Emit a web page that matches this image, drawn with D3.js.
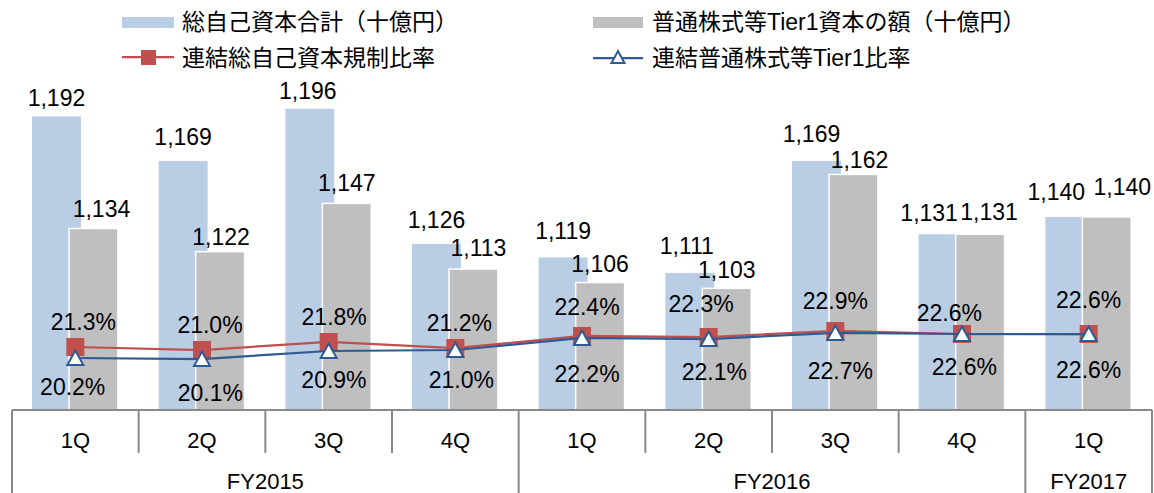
<!DOCTYPE html>
<html><head><meta charset="utf-8">
<script src="https://cdn.jsdelivr.net/npm/d3@7"></script>
<style>
body{margin:0;background:#fff;}
svg{display:block;font-family:"Liberation Sans","Noto Sans CJK JP",Arial,sans-serif;}
</style></head>
<body><svg id="c" width="1154" height="493"></svg>
<script>
// ---- data ----
const quarters = ["1Q","2Q","3Q","4Q","1Q","2Q","3Q","4Q","1Q"];
const fiscalYears = ["FY2015","FY2015","FY2015","FY2015","FY2016","FY2016","FY2016","FY2016","FY2017"];
const totalCapital = [1192,1169,1196,1126,1119,1111,1169,1131,1140];
const cet1Capital  = [1134,1122,1147,1113,1106,1103,1162,1131,1140];
const totalRatio   = [21.3,21.0,21.8,21.2,22.4,22.3,22.9,22.6,22.6];
const cet1Ratio    = [20.2,20.1,20.9,21.0,22.2,22.1,22.7,22.6,22.6];
const seriesNames = ["総自己資本合計（十億円）","普通株式等Tier1資本の額（十億円）","連結総自己資本規制比率","連結普通株式等Tier1比率"];

// ---- layout (label nudges, px) ----
const totalLblDx  = [0,0,-2,0,0,-3,-5,-14,-13.5];
const totalLblGap = [10,15.5,10,16,18.5,19,18.5,13,17];
const cetLblDx    = [8,1,0,5,0,0,6,9,15.5];
const cetLblGap   = [11.5,6.5,12,13.5,11,10,6.5,14,22];
const tRatioDx    = [8,8,5.5,4,5,-7.6,0,-12.7,0];
const tRatioDy    = [-17.3,-17,-17,-17.3,-21,-25.3,-21.7,-13.3,-25.7];
const cRatioDx    = [-2.6,8.3,5.3,6,5,5.7,5,2.3,0];
const cRatioDy    = [37,41.7,37.3,38,43.7,41,46.3,41,44.3];

const C = {blue:"#B9CDE5", grey:"#BFBFBF", red:"#C0504D", navy:"#2F5A93", axis:"#898989"};
const svg = d3.select("#c");
const idx = d3.range(quarters.length);
const left=12, right=1152, base=410;
const x = d3.scaleBand().domain(idx).range([left,right]).paddingInner(0).paddingOuter(0);
const bw = x.bandwidth();
const y = d3.scaleLinear().domain([1040,1250]).range([base,4.5]);
const y2 = d3.scaleLinear().domain([15,55]).range([base,10]);
const barW = bw*0.386;
const blueX = i => x(i)+bw*0.158;
const greyX = i => x(i)+bw*0.45;
const cx = i => x(i)+bw/2;

// bars
svg.append("g").selectAll("rect").data(idx).join("rect")
  .attr("x",i=>blueX(i)).attr("y",i=>y(totalCapital[i])).attr("width",barW)
  .attr("height",i=>base-y(totalCapital[i])).attr("fill",C.blue);
svg.append("g").selectAll("rect").data(idx).join("rect")
  .attr("x",i=>greyX(i)).attr("y",i=>y(cet1Capital[i])).attr("width",barW)
  .attr("height",i=>base-y(cet1Capital[i])).attr("fill",C.grey)
  .attr("stroke","#fff").attr("stroke-width",1.5);

// axis
const ax = svg.append("g").attr("stroke",C.axis).attr("stroke-width",2).attr("fill","none");
ax.append("line").attr("x1",left).attr("x2",right).attr("y1",base).attr("y2",base);
idx.concat([quarters.length]).forEach(i=>{
  const xx = i<quarters.length ? x(i) : right;
  const full = i===0 || i===quarters.length || fiscalYears[i]!==fiscalYears[i-1];
  ax.append("line").attr("x1",xx).attr("x2",xx).attr("y1",base).attr("y2",full?493:453);
});
const txt = svg.append("g").attr("fill","#000");
txt.selectAll("text.q").data(idx).join("text").attr("class","q")
  .attr("x",i=>cx(i)).attr("y",448).attr("text-anchor","middle").attr("font-size",22).text(i=>quarters[i]);
const groups = d3.groups(idx, i=>fiscalYears[i]);
groups.forEach(([fy,ids])=>{
  const x0 = x(ids[0]), x1 = x(ids[ids.length-1])+bw;
  txt.append("text").attr("x",(x0+x1)/2).attr("y",489).attr("text-anchor","middle")
    .attr("font-size",22).text(fy);
});

// lines
const lineT = d3.line().x(i=>cx(i)).y(i=>y2(totalRatio[i]));
const lineC = d3.line().x(i=>cx(i)).y(i=>y2(cet1Ratio[i]));
svg.append("path").attr("d",lineT(idx)).attr("fill","none").attr("stroke",C.red).attr("stroke-width",2.25);
svg.append("g").selectAll("rect").data(idx).join("rect")
  .attr("x",i=>cx(i)-9).attr("y",i=>y2(totalRatio[i])-9).attr("width",18).attr("height",18).attr("fill",C.red);
svg.append("path").attr("d",lineC(idx)).attr("fill","none").attr("stroke",C.navy).attr("stroke-width",2.25);
const tri = "M0,-7.5L8,7L-8,7Z";
svg.append("g").selectAll("path").data(idx).join("path")
  .attr("d",tri).attr("transform",i=>`translate(${cx(i)},${y2(cet1Ratio[i])})`)
  .attr("fill","#fff").attr("stroke",C.navy).attr("stroke-width",2);

// value labels
const fmt = d3.format(",");
const lab = svg.append("g").attr("font-size",23).attr("text-anchor","middle").attr("fill","#000");
idx.forEach(i=>{
  lab.append("text").attr("x",blueX(i)+barW/2+totalLblDx[i]).attr("y",y(totalCapital[i])-totalLblGap[i]).text(fmt(totalCapital[i]));
  lab.append("text").attr("x",greyX(i)+barW/2+cetLblDx[i]).attr("y",y(cet1Capital[i])-cetLblGap[i]).text(fmt(cet1Capital[i]));
  lab.append("text").attr("x",cx(i)+tRatioDx[i]).attr("y",y2(totalRatio[i])+tRatioDy[i]).text(totalRatio[i].toFixed(1)+"%");
  lab.append("text").attr("x",cx(i)+cRatioDx[i]).attr("y",y2(cet1Ratio[i])+cRatioDy[i]).text(cet1Ratio[i].toFixed(1)+"%");
});

// legend
const lg = svg.append("g").attr("font-size",23).attr("fill","#000");
lg.append("rect").attr("x",122).attr("y",17).attr("width",52).attr("height",11).attr("fill",C.blue);
lg.append("text").attr("x",182).attr("y",30).text(seriesNames[0]);
lg.append("rect").attr("x",593).attr("y",17).attr("width",50).attr("height",11).attr("fill",C.grey);
lg.append("text").attr("x",652).attr("y",30).text(seriesNames[1]);
lg.append("line").attr("x1",122).attr("x2",174).attr("y1",57).attr("y2",57).attr("stroke",C.red).attr("stroke-width",2.25);
lg.append("rect").attr("x",141).attr("y",50).attr("width",15).attr("height",15).attr("fill",C.red);
lg.append("text").attr("x",182).attr("y",66).text(seriesNames[2]);
lg.append("line").attr("x1",593).attr("x2",643).attr("y1",58).attr("y2",58).attr("stroke",C.navy).attr("stroke-width",2.25);
lg.append("path").attr("d","M0,-6L6.5,6L-6.5,6Z").attr("transform","translate(618,57)").attr("fill","#fff").attr("stroke",C.navy).attr("stroke-width",2);
lg.append("text").attr("x",652).attr("y",66).text(seriesNames[3]);
</script></body></html>
